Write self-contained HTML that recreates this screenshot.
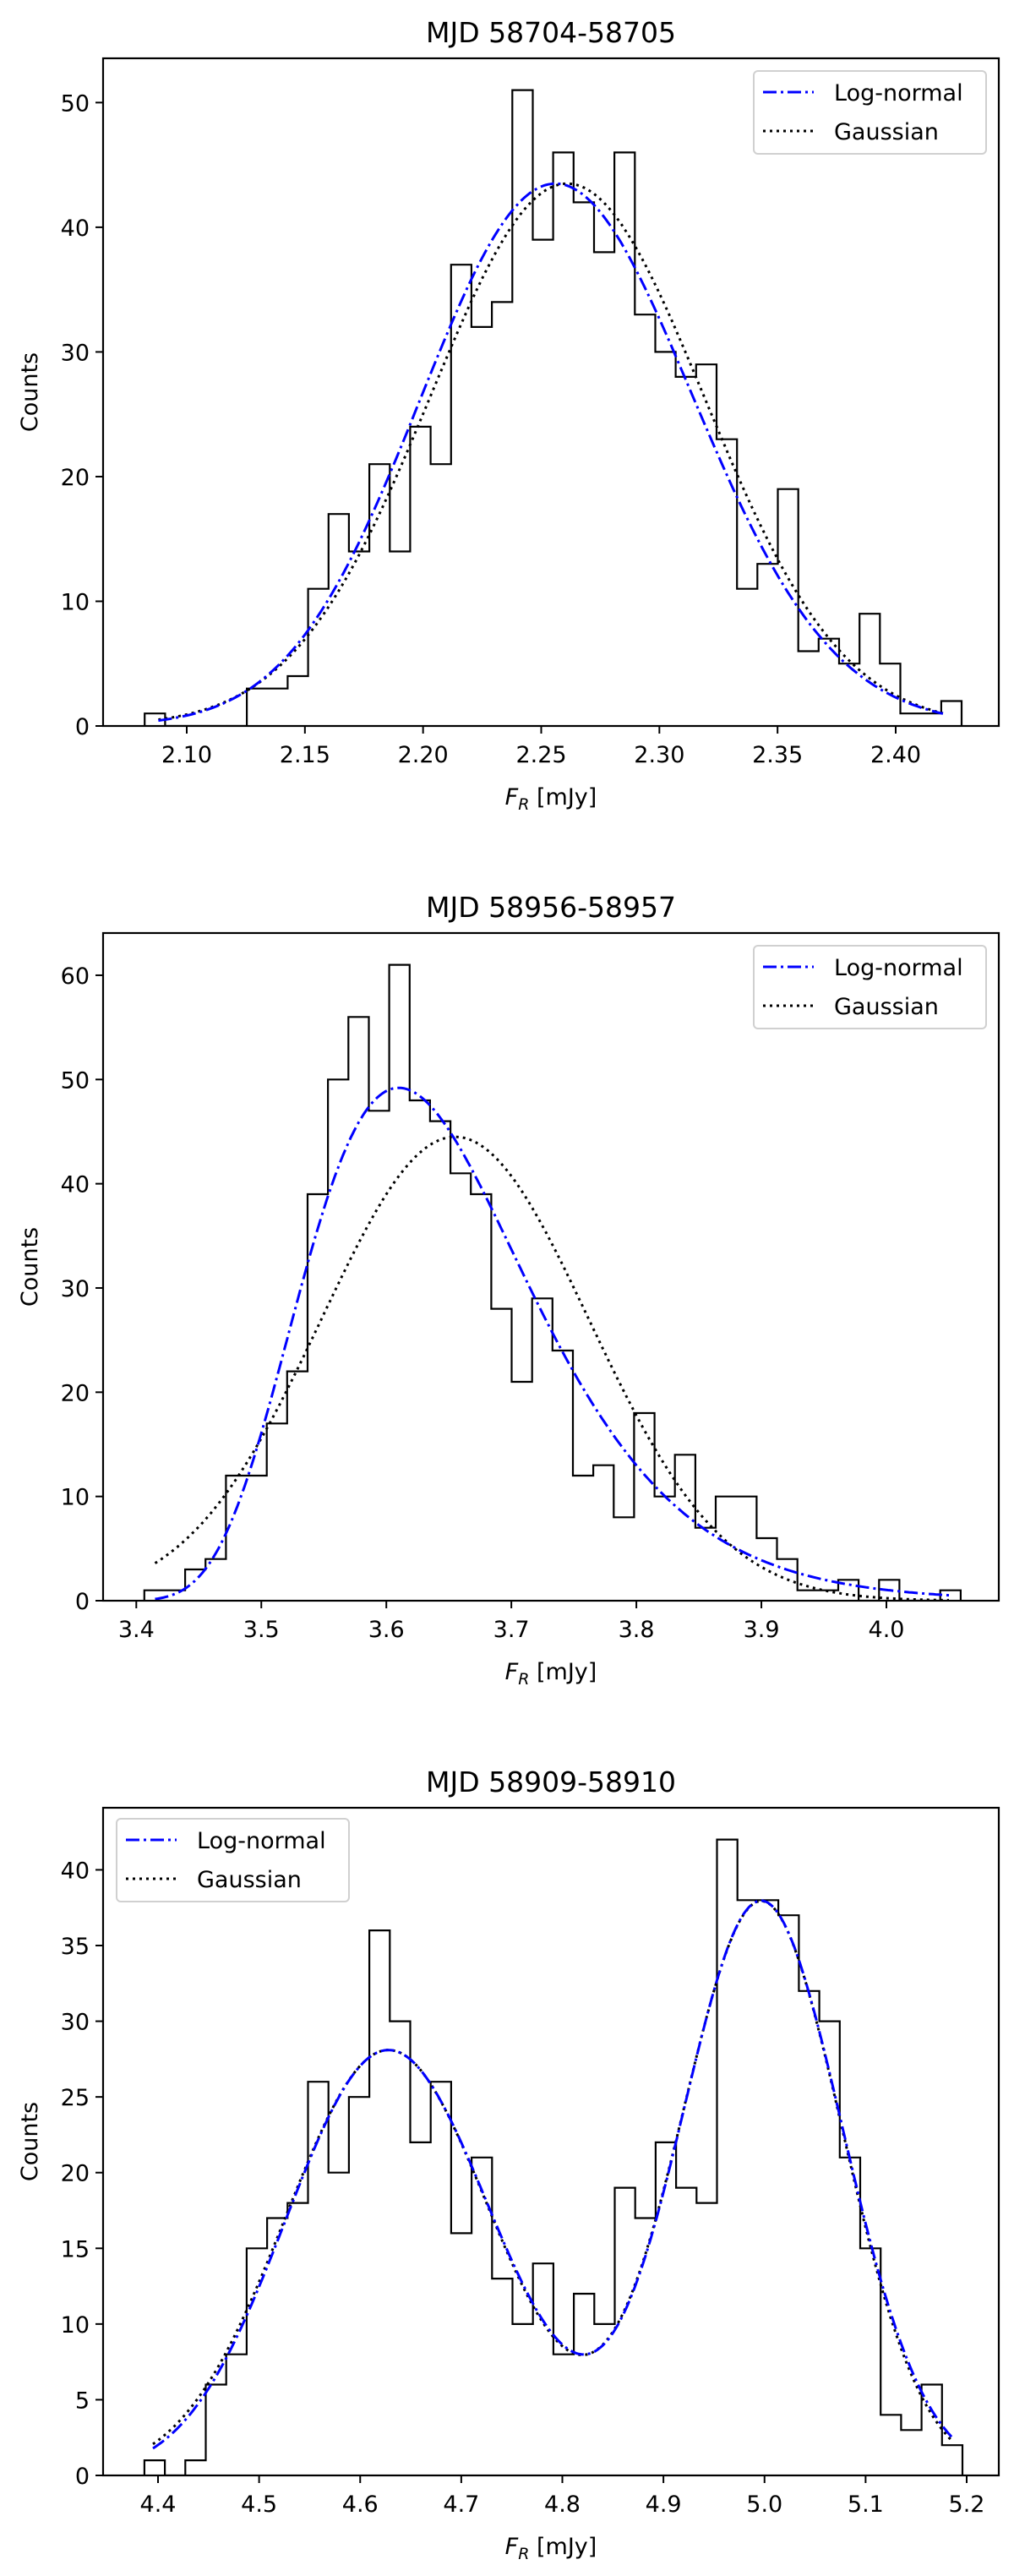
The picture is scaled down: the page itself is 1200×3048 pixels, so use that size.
<!DOCTYPE html>
<html><head><meta charset="utf-8"><style>
html,body{margin:0;padding:0;background:#fff;}
svg{display:block;font-family:"DejaVu Sans","Liberation Sans",sans-serif;}
</style></head>
<body>
<svg id="fig" width="1200" height="3048" viewBox="0 0 1200 3048" xmlns="http://www.w3.org/2000/svg"></svg>
<script>
// ---------- data ----------
const titles = ["MJD 58704-58705", "MJD 58956-58957", "MJD 58909-58910"];
const counts1 = [1,0,0,0,0,3,3,4,11,17,14,21,14,24,21,37,32,34,51,39,46,42,38,46,33,30,28,29,23,11,13,19,6,7,5,9,5,1,1,2];
const counts2 = [1,1,3,4,12,12,17,22,39,50,56,47,61,48,46,41,39,28,21,29,24,12,13,8,18,10,14,7,10,10,6,4,1,1,2,0,2,0,0,1];
const counts3 = [1,0,1,6,8,15,17,18,26,20,25,36,30,22,26,16,21,13,10,14,8,12,10,19,17,22,19,18,42,38,38,37,32,30,21,15,4,3,6,2];
const histRange1 = [2.0822, 2.4279];
const histRange2 = [3.4064, 4.0594];
const histRange3 = [4.3865, 5.1958];
const xTicks1 = [2.10,2.15,2.20,2.25,2.30,2.35,2.40];
const xTicks2 = [3.4,3.5,3.6,3.7,3.8,3.9,4.0];
const xTicks3 = [4.4,4.5,4.6,4.7,4.8,4.9,5.0,5.1,5.2];
const xTickLabels1 = ["2.10","2.15","2.20","2.25","2.30","2.35","2.40"];
const xTickLabels2 = ["3.4","3.5","3.6","3.7","3.8","3.9","4.0"];
const xTickLabels3 = ["4.4","4.5","4.6","4.7","4.8","4.9","5.0","5.1","5.2"];
const yTicks1 = [0,10,20,30,40,50];
const yTicks2 = [0,10,20,30,40,50,60];
const yTicks3 = [0,5,10,15,20,25,30,35,40];
// fitted model parameters: [amplitude, centre/mode, width, shift]
const logFit1 = [[43.5, 2.256, 0.0255, 0]];
const gaussFit1 = [[43.5, 2.261, 0.058]];
const logFit2 = [[49.2, 0.31, 0.293, 3.30]];
const gaussFit2 = [[44.5, 3.655, 0.107]];
const logFit3 = [[28.1, 4.628, 0.0220, 0],[37.9, 4.997, 0.0159, 0]];
const gaussFit3 = [[28.1, 4.628, 0.102],[37.9, 4.997, 0.0795]];
const curveRange1 = [2.088, 2.420];
const curveRange2 = [3.415, 4.050];
const curveRange3 = [4.395, 5.185];

// ---------- layout ----------
const NS = "http://www.w3.org/2000/svg";
const svg = document.getElementById("fig");
function mk(tag, attrs, parent){ const e=document.createElementNS(NS,tag); for(const k in attrs) e.setAttribute(k,attrs[k]); (parent||svg).appendChild(e); return e; }

const panels = [
  {top:69, bottom:859, tickA:[2.10,221], tickB:[2.40,1060], counts:counts1, range:histRange1, xt:xTicks1, xl:xTickLabels1, yt:yTicks1, lf:logFit1, gf:gaussFit1, cr:curveRange1, legLeft:false, title:titles[0]},
  {top:1104, bottom:1894, tickA:[3.4,161.3], tickB:[4.0,1049], counts:counts2, range:histRange2, xt:xTicks2, xl:xTickLabels2, yt:yTicks2, lf:logFit2, gf:gaussFit2, cr:curveRange2, legLeft:false, title:titles[1]},
  {top:2139, bottom:2929, tickA:[4.4,187], tickB:[5.2,1144], counts:counts3, range:histRange3, xt:xTicks3, xl:xTickLabels3, yt:yTicks3, lf:logFit3, gf:gaussFit3, cr:curveRange3, legLeft:true, title:titles[2]}
];
const L=122, R=1182;

function logModel(p,x){ let s=0; for(const q of p){ const t=x-q[3]; if(t<=0) continue; const u=Math.log(t/q[1]); s+=q[0]*Math.exp(-u*u/(2*q[2]*q[2])); } return s; }
function gaussModel(p,x){ let s=0; for(const q of p){ const d=x-q[1]; s+=q[0]*Math.exp(-d*d/(2*q[2]*q[2])); } return s; }

panels.forEach((P, idx) => {
  const g = mk("g", {});
  
  
  const ymax = Math.max(...P.counts)*1.05;
  const xs = v => P.tickA[1] + (v-P.tickA[0])*(P.tickB[1]-P.tickA[1])/(P.tickB[0]-P.tickA[0]);
  const ys = v => P.bottom - v*(P.bottom-P.top)/ymax;

  const t = mk("text", {x:(L+R)/2, y:P.top-19, "text-anchor":"middle", "font-size":33, fill:"#000"}, g);
  t.textContent = P.title;
  
  

  const cp = mk("clipPath", {id:"cp"+idx}, g);
  mk("rect", {x:L, y:P.top, width:R-L, height:P.bottom-P.top}, cp);
  const plot = mk("g", {"clip-path":"url(#cp"+idx+")"}, g);

  const n = P.counts.length, w = (P.range[1]-P.range[0])/n;
  let d = "M"+xs(P.range[0]).toFixed(1)+","+ys(0).toFixed(1);
  for(let i=0;i<n;i++){
    const x0=xs(P.range[0]+i*w), x1=xs(P.range[0]+(i+1)*w), y=ys(P.counts[i]);
    d += " L"+x0.toFixed(1)+","+y.toFixed(1)+" L"+x1.toFixed(1)+","+y.toFixed(1);
  }
  d += " L"+xs(P.range[1]).toFixed(1)+","+ys(0).toFixed(1);
  const h = mk("path", {d:d, fill:"none", stroke:"#000", "stroke-width":2.2}, plot);
  
  

  function curve(fn, params, style, name){
    let pts=[]; const N=300;
    for(let i=0;i<=N;i++){ const x=P.cr[0]+(P.cr[1]-P.cr[0])*i/N; pts.push(xs(x).toFixed(1)+","+ys(fn(params,x)).toFixed(1)); }
    const c = mk("polyline", Object.assign({points:pts.join(" "), fill:"none"}, style), plot);
    
    
  }
  curve(gaussModel, P.gf, {stroke:"#000", "stroke-width":3, "stroke-dasharray":"3 5"}, "gaussian-curve");
  curve(logModel, P.lf, {stroke:"#0000ff", "stroke-width":3, "stroke-dasharray":"16 5 3 5"}, "lognormal-curve");

  const fr = mk("rect", {x:L, y:P.top, width:R-L, height:P.bottom-P.top, fill:"none", stroke:"#000", "stroke-width":2.2}, g);
  
  

  P.xt.forEach((v,i)=>{
    const x=xs(v);
    mk("line",{x1:x,y1:P.bottom,x2:x,y2:P.bottom+9,stroke:"#000","stroke-width":2},g);
    const tl=mk("text",{x:x,y:P.bottom+43,"text-anchor":"middle","font-size":27,fill:"#000"},g);
    tl.textContent=P.xl[i];
    
    
  });
  P.yt.forEach(v=>{
    const y=ys(v);
    mk("line",{x1:L-9,y1:y,x2:L,y2:y,stroke:"#000","stroke-width":2},g);
    const tl=mk("text",{x:L-16,y:y+10,"text-anchor":"end","font-size":27,fill:"#000"},g);
    tl.textContent=String(v);
    
    
  });
  const yl=mk("text",{x:0,y:0,"text-anchor":"middle","font-size":27,fill:"#000",transform:"translate(44,"+((P.top+P.bottom)/2)+") rotate(-90)"},g);
  yl.textContent="Counts";
  
  
  const xl=mk("text",{x:(L+R)/2,y:P.bottom+93,"text-anchor":"middle","font-size":27,fill:"#000"},g);
  xl.innerHTML='<tspan font-style="italic">F</tspan><tspan font-style="italic" font-size="19" dy="6">R</tspan><tspan dy="-6"> [mJy]</tspan>';
  
  

  const lx = P.legLeft ? 138 : 892, lw = 275;
  const lt = P.legLeft ? P.top+13 : P.top+15;
  const lg = mk("g", {}, g);
  
  
  mk("rect",{x:lx,y:lt,width:lw,height:98,rx:5,fill:"#fff","fill-opacity":0.8,stroke:"#d0d0d0","stroke-width":2},lg);
  const e1=mk("g",{},lg);
  
  
  mk("line",{x1:lx+11,y1:lt+25,x2:lx+71,y2:lt+25,stroke:"#0000ff","stroke-width":3,"stroke-dasharray":"16 5 3 5"},e1);
  const t1=mk("text",{x:lx+95,y:lt+35,"font-size":27,fill:"#000"},e1); t1.textContent="Log-normal";
  const e2=mk("g",{},lg);
  
  
  mk("line",{x1:lx+11,y1:lt+71,x2:lx+71,y2:lt+71,stroke:"#000","stroke-width":3,"stroke-dasharray":"3 5"},e2);
  const t2=mk("text",{x:lx+95,y:lt+81,"font-size":27,fill:"#000"},e2); t2.textContent="Gaussian";
});
</script>
</body></html>
